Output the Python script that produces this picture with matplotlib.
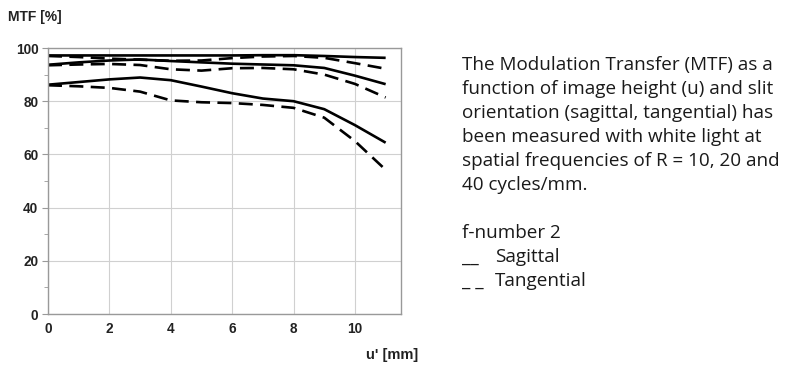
import matplotlib
matplotlib.use("Agg")
import matplotlib.pyplot as plt
from matplotlib.ticker import MultipleLocator

u = [0, 1, 2, 3, 4, 5, 6, 7, 8, 9, 10, 11]
sag10 = [97.2, 97.2, 97.2, 97.2, 97.2, 97.2, 97.2, 97.3, 97.3, 97.0, 96.6, 96.3]
tan10 = [97.0, 96.6, 96.0, 95.6, 95.2, 95.3, 96.2, 96.8, 97.0, 96.3, 94.3, 92.2]
sag20 = [93.7, 94.6, 95.3, 95.7, 95.1, 94.6, 94.1, 93.8, 93.5, 92.5, 89.6, 86.4]
tan20 = [93.5, 93.8, 94.0, 93.6, 92.0, 91.5, 92.4, 92.5, 92.0, 90.0, 86.5, 81.4]
sag40 = [86.2, 87.2, 88.2, 88.9, 87.9, 85.5, 83.0, 81.0, 80.0, 77.0, 71.0, 64.4]
tan40 = [86.0, 85.6, 85.0, 83.6, 80.3, 79.6, 79.3, 78.6, 77.5, 73.8, 65.0, 54.2]

xticks = [0, 2, 4, 6, 8, 10]
yticks = [0, 20, 40, 60, 80, 100]

fig = plt.figure(figsize=(8, 3.77), dpi=100)
ax = fig.add_axes([48/800, 1-314/377, (401-48)/800, (314-48)/377])

for s in (sag10, sag20, sag40):
    ax.plot(u, s, color="black", lw=1.9, solid_capstyle="butt")
for t in (tan10, tan20, tan40):
    ax.plot(u, t, color="black", lw=1.9, dashes=(5.3, 2.8))

ax.set_xlim(0, 11.5)
ax.set_ylim(0, 100)
ax.set_xticks(xticks)
ax.set_yticks(yticks)
ax.yaxis.set_minor_locator(MultipleLocator(10))
ax.grid(True, which="major", color="#d0d0d0", lw=0.8)
ax.set_axisbelow(True)
for sp in ax.spines.values():
    sp.set_color("#999999")
    sp.set_linewidth(1.0)
ax.tick_params(axis="both", which="major", length=4, color="#999999",
               labelsize=9.8, pad=3)
ax.tick_params(axis="x", which="major", length=0, pad=6)
ax.tick_params(axis="y", which="minor", length=3, color="#999999")
for lab in ax.get_xticklabels() + ax.get_yticklabels():
    lab.set_fontfamily("Liberation Sans")
    lab.set_fontweight("bold")
    lab.set_color("#222222")

fig.text(8/800, 1-17/377, "MTF [%]", fontfamily="Liberation Sans", fontweight="bold",
         fontsize=10, va="center", ha="left", color="#222222")
fig.text(418/800, 1-355/377, "u' [mm]", fontfamily="Liberation Sans", fontweight="bold",
         fontsize=10.5, va="center", ha="right", color="#222222")

lines = ["The Modulation Transfer (MTF) as a",
         "function of image height (u) and slit",
         "orientation (sagittal, tangential) has",
         "been measured with white light at",
         "spatial frequencies of R = 10, 20 and",
         "40 cycles/mm.",
         "",
         "f-number 2"]
legend_marks = ["__", "_ _"]
legend_names = ["Sagittal", "Tangential"]

y0 = 65
tkw = dict(fontfamily="Open Sans", fontsize=13.6, va="center", ha="left", color="#1a1a1a")
for i, ln in enumerate(lines):
    fig.text(462/800, 1-(y0 + 24*i)/377, ln, **tkw)
for j, (m, n) in enumerate(zip(legend_marks, legend_names)):
    yy = 1-(y0 + 24*(len(lines)+j))/377
    fig.text(462/800, yy, m, **tkw)
    fig.text(495/800, yy, n, **tkw)

fig.savefig("out.png", dpi=100)
